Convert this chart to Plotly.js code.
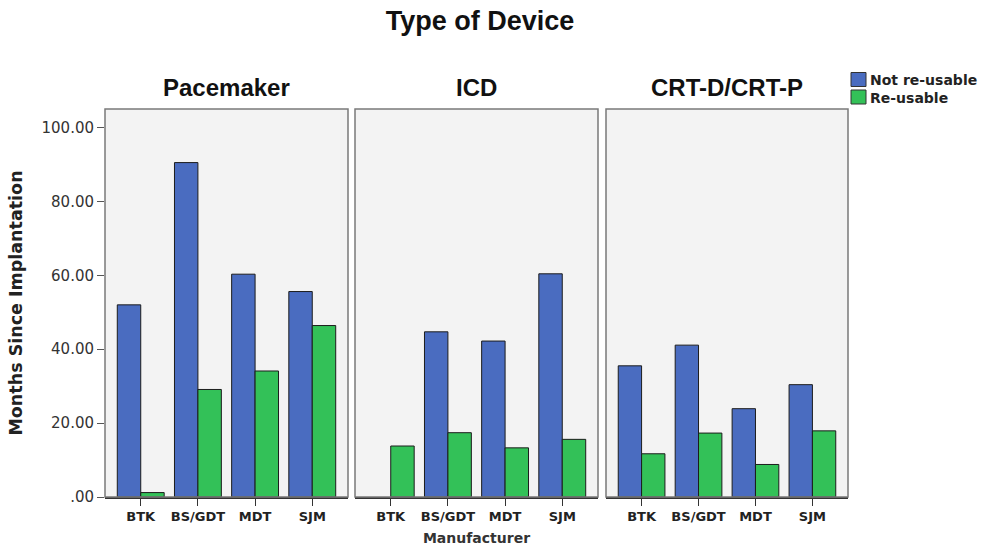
<!DOCTYPE html>
<html>
<head>
<meta charset="utf-8">
<script src="https://cdn.plot.ly/plotly-3.0.1.min.js"></script>
<style>html,body{margin:0;padding:0;background:#fff;}#chart{width:981px;height:546px;}</style>
</head>
<body>
<div id="chart"></div>
<script>
// ---- data ----
const chartTitle = "Type of Device";
const panels = ["Pacemaker", "ICD", "CRT-D/CRT-P"];
const manufacturers = ["BTK", "BS/GDT", "MDT", "SJM"];
const seriesNames = ["Not re-usable", "Re-usable"];
const notReusable = {
  "Pacemaker":   [52.0, 90.5, 60.3, 55.6],
  "ICD":         [null, 44.7, 42.2, 60.4],
  "CRT-D/CRT-P": [35.5, 41.1, 23.9, 30.4]
};
const reusable = {
  "Pacemaker":   [1.2, 29.1, 34.1, 46.4],
  "ICD":         [13.8, 17.4, 13.3, 15.6],
  "CRT-D/CRT-P": [11.7, 17.3, 8.8, 17.9]
};
const yTickVals = [0, 20, 40, 60, 80, 100];
const yTickText = [".00", "20.00", "40.00", "60.00", "80.00", "100.00"];
const yTitle = "Months Since Implantation";
const xTitle = "Manufacturer";

// ---- style ----
const W = 981, H = 546;
const M = {l: 105, r: 133, t: 109, b: 49};
const PW = W - M.l - M.r, PH = H - M.t - M.b;
const colors = ["#4a6cc0", "#33c158"];
const panelPx = [[105, 348], [355, 598], [606, 848]];
const px2x = p => (p - M.l) / PW;
const px2y = p => (H - M.b - p) / PH;

const traces = [];
const layout = {
  width: W, height: H,
  margin: M,
  paper_bgcolor: "#ffffff",
  plot_bgcolor: "#f3f3f3",
  barmode: "group",
  bargap: 0.18,
  bargroupgap: 0,
  showlegend: false,
  font: {family: "DejaVu Sans", color: "#222"},
  title: {
    text: "<b>" + chartTitle + "</b>",
    font: {family: "Liberation Sans", size: 27, color: "#111"},
    x: 480 / W, xanchor: "center", xref: "container",
    y: 1 - 21 / H, yanchor: "middle", yref: "container"
  },
  annotations: [],
  shapes: []
};

panels.forEach((p, i) => {
  const sfx = i === 0 ? "" : String(i + 1);
  const xa = "x" + sfx, ya = "y" + sfx;
  [notReusable[p], reusable[p]].forEach((vals, s) => {
    traces.push({
      type: "bar",
      name: seriesNames[s],
      x: manufacturers,
      y: vals,
      xaxis: xa, yaxis: ya,
      offsetgroup: String(s),
      marker: {color: colors[s], line: {color: "#1c1c1c", width: 1}},
      hoverinfo: "x+y+name"
    });
  });
  layout["xaxis" + sfx] = {
    domain: [px2x(panelPx[i][0]), px2x(panelPx[i][1])],
    anchor: ya,
    type: "category",
    range: [-0.625, 3.625],
    showgrid: false, zeroline: false,
    showline: true, linecolor: "#333", linewidth: 1.5,
    ticks: "outside", ticklen: 7, tickcolor: "#333", tickwidth: 1,
    tickfont: {family: "DejaVu Sans", size: 13, color: "#222", weight: "bold"},
    fixedrange: true
  };
  layout["yaxis" + sfx] = {
    domain: [0, 1],
    anchor: xa,
    range: [0, 105],
    showgrid: false, zeroline: false,
    showline: false,
    tickvals: yTickVals,
    ticktext: yTickText,
    showticklabels: i === 0,
    ticks: i === 0 ? "outside" : "",
    ticklen: 7, tickcolor: "#555", tickwidth: 1,
    tickfont: {family: "DejaVu Sans", size: 15, color: "#333"},
    fixedrange: true
  };
  if (i > 0) layout["yaxis" + sfx].matches = "y";
  // panel frame
  layout.shapes.push({
    type: "rect", xref: xa + " domain", yref: ya + " domain",
    x0: 0, x1: 1, y0: 0, y1: 1,
    line: {color: "#7a7a7a", width: 1.5}, layer: "above"
  });
  // panel title
  layout.annotations.push({
    text: "<b>" + p + "</b>",
    xref: xa + " domain", x: 0.5, xanchor: "center",
    yref: "paper", y: px2y(88), yanchor: "middle",
    showarrow: false,
    font: {family: "Liberation Sans", size: 24, color: "#111"}
  });
});

layout.yaxis.title = {
  text: "<b>" + yTitle + "</b>",
  font: {family: "DejaVu Sans", size: 17.5, color: "#222"},
  standoff: 14
};
layout.xaxis2.title = {
  text: "<b>" + xTitle + "</b>",
  font: {family: "DejaVu Sans", size: 14, color: "#333"},
  standoff: 10
};

// legend (manual)
const legTop = [72.5, 90];
seriesNames.forEach((n, s) => {
  layout.shapes.push({
    type: "rect", xref: "paper", yref: "paper",
    x0: px2x(851), x1: px2x(866),
    y0: px2y(legTop[s]), y1: px2y(legTop[s] + 14),
    fillcolor: colors[s], line: {color: "#333", width: 1}
  });
  layout.annotations.push({
    text: "<b>" + n + "</b>",
    xref: "paper", x: px2x(868), xanchor: "left",
    yref: "paper", y: px2y(legTop[s] + 7.5), yanchor: "middle",
    showarrow: false,
    font: {family: "DejaVu Sans", size: 14, color: "#222"}
  });
});

Plotly.newPlot("chart", traces, layout, {displayModeBar: false, staticPlot: true});
</script>
</body>
</html>
